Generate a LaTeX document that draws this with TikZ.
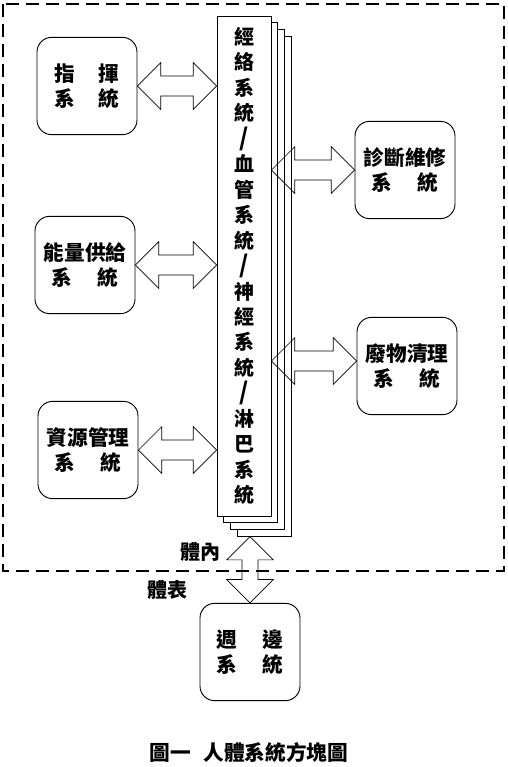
\documentclass[tikz,border=0pt]{standalone}
\usepackage{fontspec}
\newfontfamily\cjkfont{Noto Sans CJK TC}
\usetikzlibrary{calc}
\tikzset{
  sysbox/.style={draw,line width=0.7pt,rounded corners=11pt,minimum width=75pt,minimum height=73pt,
    inner sep=0pt,align=center,font=\cjkfont\bfseries\fontsize{15.5}{19}\selectfont},
  stackbox/.style={draw,line width=0.7pt,fill=white,minimum width=40.5pt,minimum height=375pt,inner sep=0pt},
  dblarrow/.style={draw,line width=0.5pt},
  lbl/.style={font=\cjkfont\bfseries\fontsize{15}{18}\selectfont,inner sep=0pt}
}
\newcommand\sep{{\fontsize{18}{19.1}\selectfont/}}
% double arrow, left tip #1, right tip #2
\newcommand\hdarrow[2]{%
  \path[dblarrow] let \p1=(#1), \p2=(#2) in
    (\x1,\y1) -- (\x1+17.5pt,\y1+17.5pt) -- (\x1+17.5pt,\y1+7.5pt) -- (\x2-17.5pt,\y1+7.5pt)
    -- (\x2-17.5pt,\y1+17.5pt) -- (\x2,\y1) -- (\x2-17.5pt,\y1-17.5pt) -- (\x2-17.5pt,\y1-7.5pt)
    -- (\x1+17.5pt,\y1-7.5pt) -- (\x1+17.5pt,\y1-17.5pt) -- cycle;}
% double arrow, top tip #1, bottom tip #2
\newcommand\vdarrow[2]{%
  \path[dblarrow] let \p1=(#1), \p2=(#2) in
    (\x1,\y1) -- (\x1+17.5pt,\y1-17.5pt) -- (\x1+6pt,\y1-17.5pt) -- (\x1+6pt,\y2+17.5pt)
    -- (\x1+17.5pt,\y2+17.5pt) -- (\x1,\y2) -- (\x1-17.5pt,\y2+17.5pt) -- (\x1-6pt,\y2+17.5pt)
    -- (\x1-6pt,\y1-17.5pt) -- (\x1-17.5pt,\y1-17.5pt) -- cycle;}
\begin{document}
\begin{tikzpicture}[x=0.75pt,y=-0.75pt]
\useasboundingbox (0,0) rectangle (507,767);
\draw[line width=1.6pt,dash pattern=on 10pt off 5pt] (3,4) rectangle (504,571);
% stacked pages
\foreach \i in {3,2,1}
  \node[stackbox] (stack\i) at ($(244,266)+\i*(6.7,6.7)$) {};
\node[stackbox,align=center,font=\cjkfont\bfseries\fontsize{15}{19.1}\selectfont] (jingluo) at (244,266)
  {經\\絡\\系\\統\\\sep\\血\\管\\系\\統\\\sep\\神\\經\\系\\統\\\sep\\淋\\巴\\系\\統};
\node[sysbox] (zhihui) at (87,86) {指\hspace{1.1em}揮\\系\hspace{1.1em}統};
\node[sysbox] (nengliang) at (85,265) {能量供給\\系\hspace{1.2em}統};
\node[sysbox] (ziyuan) at (88,450) {資源管理\\系\hspace{1.2em}統};
\node[sysbox] (zhenduan) at (405,170) {診斷維修\\系\hspace{1.2em}統};
\node[sysbox] (feiwu) at (407,366) {廢物清理\\系\hspace{1.2em}統};
\node[sysbox] (zhoubian) at (250,652) {週\hspace{1.2em}邊\\系\hspace{1.2em}統};
\hdarrow{zhihui.east}{jingluo.west |- zhihui.east}
\hdarrow{nengliang.east}{jingluo.west |- nengliang.east}
\hdarrow{ziyuan.east}{jingluo.west |- ziyuan.east}
\hdarrow{jingluo.east |- zhenduan.west}{zhenduan.west}
\hdarrow{$(jingluo.east |- feiwu.west)+(0,-5)$}{$(feiwu.west)+(0,-5)$}
\vdarrow{zhoubian.north |- stack3.south}{zhoubian.north}
\node[lbl] (tinei) at (200,552) {體內};
\node[lbl] (tibiao) at (167,590) {體表};
\node[font=\cjkfont\bfseries\fontsize{15.5}{18}\selectfont,inner sep=0pt] (caption) at (249,753) {圖一\hspace{0.6em}人體系統方塊圖};
\end{tikzpicture}
\end{document}
